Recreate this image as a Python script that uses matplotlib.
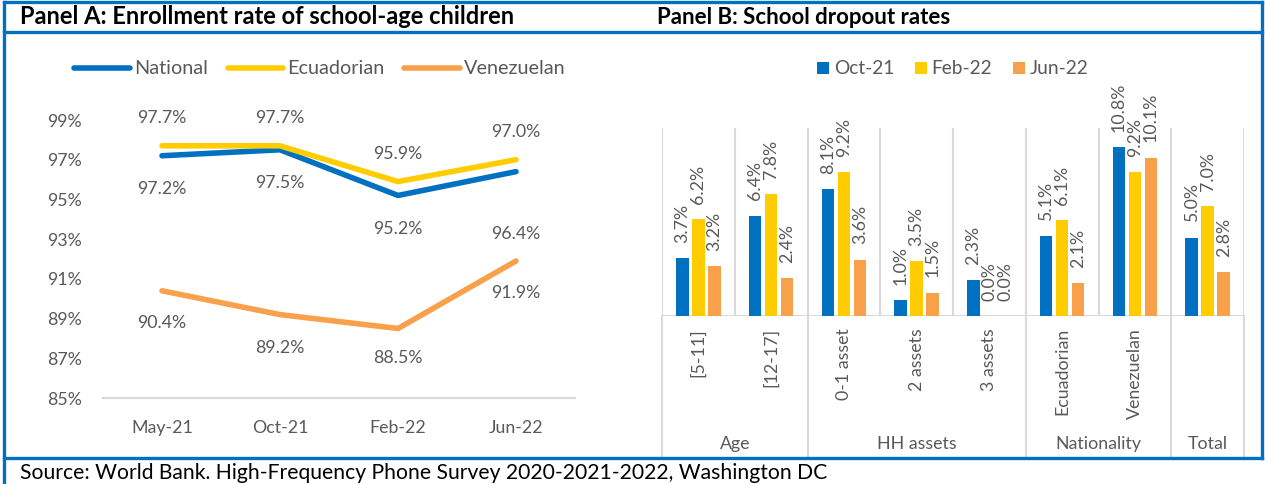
import numpy as np
import matplotlib
matplotlib.use("Agg")
import matplotlib.pyplot as plt
from matplotlib.lines import Line2D

plt.rcParams['font.family'] = ['Lato', 'DejaVu Sans']

# Panel A data: enrollment rate (%)
periods_a = ['May-21', 'Oct-21', 'Feb-22', 'Jun-22']
national = [97.2, 97.5, 95.2, 96.4]
ecuadorian = [97.7, 97.7, 95.9, 97.0]
venezuelan = [90.4, 89.2, 88.5, 91.9]

# Panel B data: dropout rates (%)
categories_b = ['[5-11]', '[12-17]', '0-1 asset', '2 assets', '3 assets',
                'Ecuadorian', 'Venezuelan', '']
groups_b = ['Age', 'HH assets', 'Nationality', 'Total']
group_sizes = [2, 3, 2, 1]
oct21 = [3.7, 6.4, 8.1, 1.0, 2.3, 5.1, 10.8, 5.0]
feb22 = [6.2, 7.8, 9.2, 3.5, 0.0, 6.1, 9.2, 7.0]
jun22 = [3.2, 2.4, 3.6, 1.5, 0.0, 2.1, 10.1, 2.8]

BLUE = '#0070C0'
YELLOW = '#FFCC00'
ORANGE = '#F9A04B'
TXT = '#595959'
GRID = '#D9D9D9'

W, H = 1265, 484
fig = plt.figure(figsize=(W / 100, H / 100), dpi=100)


def fx(x):
    return x / W


def fy(y):
    return 1 - y / H


# frame and titles
for (x0, y0, x1, y1) in [(4, 2, 1262, 2), (4, 32, 1262, 32), (4, 458, 1262, 458),
                         (4, 2, 4, 484), (1262, 2, 1262, 458)]:
    fig.add_artist(Line2D([fx(x0), fx(x1)], [fy(y0), fy(y1)], color=BLUE, lw=2.4))

fig.text(fx(20), fy(17), 'Panel A: Enrollment rate of school-age children',
         fontsize=17, fontweight='bold', va='center', color='black')
fig.text(fx(657), fy(17), 'Panel B: School dropout rates',
         fontsize=16, fontweight='bold', va='center', color='black')
fig.text(fx(20), fy(473), 'Source: World Bank. High-Frequency Phone Survey 2020-2021-2022, Washington DC',
         fontsize=15.2, va='center', color='black')

# ---------------- Panel A ----------------
axA = fig.add_axes([fx(103), fy(398), fx(575) - fx(103), fy(120) - fy(398)])
xa = np.arange(len(periods_a))
series = [(national, BLUE, 'National'), (ecuadorian, YELLOW, 'Ecuadorian'),
          (venezuelan, ORANGE, 'Venezuelan')]
for vals, col, name in series:
    axA.plot(xa, vals, color=col, lw=4, label=name, solid_capstyle='round',
             solid_joinstyle='round')

# label offsets in points (positions only)
offs = {'National': [-24, -24, -24, -45],
        'Ecuadorian': [20, 20, 20, 20],
        'Venezuelan': [-23, -24, -21, -23]}
for vals, col, name in series:
    for i, v in enumerate(vals):
        axA.annotate(f'{v:.1f}%', (xa[i], v), xytext=(0, offs[name][i]),
                     textcoords='offset points', ha='center', va='center',
                     fontsize=12.8, color=TXT)

axA.set_xlim(-0.5, len(periods_a) - 0.5)
axA.set_ylim(85, 99)
axA.set_yticks(np.arange(85, 100, 2))
axA.set_yticklabels([f'{t}%' for t in range(85, 100, 2)])
axA.set_xticks(xa)
axA.set_xticklabels(periods_a)
axA.tick_params(length=0, labelsize=12.8, colors=TXT)
axA.tick_params(axis='x', pad=16)
axA.tick_params(axis='y', pad=15)
for s in ['top', 'right', 'left']:
    axA.spines[s].set_visible(False)
axA.spines['bottom'].set_color(GRID)
axA.spines['bottom'].set_linewidth(1.5)
axA.set_facecolor('none')
axA.legend(loc='center', bbox_to_anchor=(fx(320), fy(69)),
           bbox_transform=fig.transFigure, ncol=3, frameon=False,
           fontsize=14.3, handlelength=2.8, handletextpad=0.2,
           columnspacing=1.0, labelcolor=TXT)

# ---------------- Panel B ----------------
axB = fig.add_axes([fx(662), fy(316), fx(1244) - fx(662), fy(128) - fy(316)])
xb = np.arange(len(categories_b))
bw = 0.17
step = 0.22
for k, (vals, col, name) in enumerate([(oct21, BLUE, 'Oct-21'), (feb22, YELLOW, 'Feb-22'),
                                       (jun22, ORANGE, 'Jun-22')]):
    pos = xb + (k - 1) * step
    axB.bar(pos, vals, width=bw, color=col, label=name, zorder=3)
    for p, v in zip(pos, vals):
        axB.annotate(f'{v:.1f}%', (p, v), xytext=(0, 11), textcoords='offset points',
                     rotation=90, ha='center', va='bottom', fontsize=12.8, color=TXT)

axB.set_xlim(-0.5, len(categories_b) - 0.5)
axB.set_ylim(0, 12)
axB.vlines(np.arange(-0.5, len(categories_b)), 0, 12, color=GRID, lw=1.5, zorder=1)
axB.axhline(0, color=GRID, lw=1.5, zorder=2)
axB.set_xticks([])
axB.set_yticks([])
for s in axB.spines.values():
    s.set_visible(False)

trans = axB.get_xaxis_transform()
for i, c in enumerate(categories_b):
    axB.text(i, -0.064, c, rotation=90, ha='center', va='top', fontsize=12.8,
             color=TXT, transform=trans)
start = -0.5
bounds = [start]
for g, n in zip(groups_b, group_sizes):
    axB.text(start + n / 2, -0.68, g, ha='center', va='center', fontsize=12.8,
             color=TXT, transform=trans)
    start += n
    bounds.append(start)
for b in bounds:
    axB.add_line(Line2D([b, b], [0, -0.75], color=GRID, lw=1.5, transform=trans,
                        clip_on=False))

axB.legend(loc='center', bbox_to_anchor=(fx(953), fy(69)), bbox_transform=fig.transFigure,
           ncol=3, frameon=False, fontsize=13.8, handlelength=0.6, handleheight=0.6,
           handletextpad=0.26, columnspacing=1.1, labelcolor=TXT)

fig.savefig('out.png', dpi=100)
